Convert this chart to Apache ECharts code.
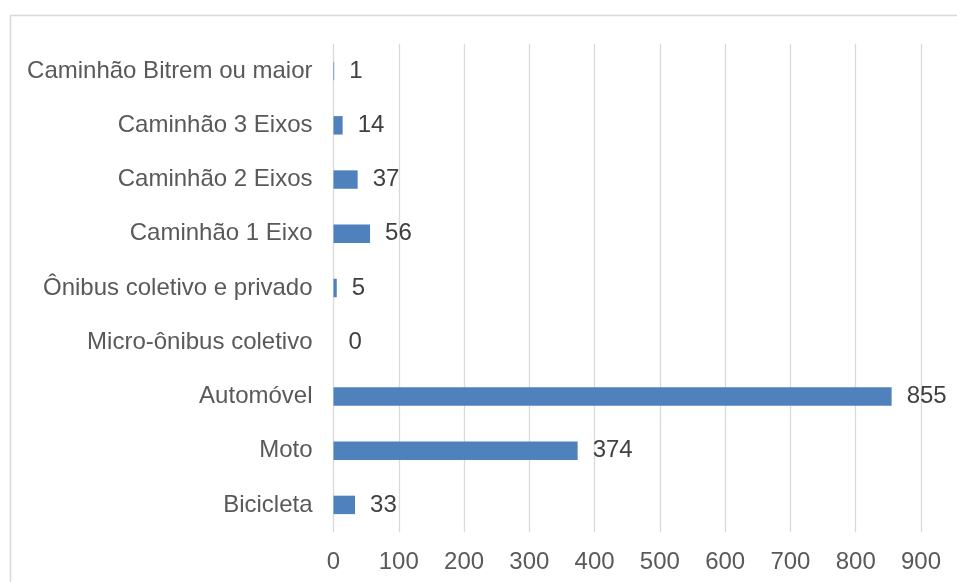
<!DOCTYPE html>
<html>
<head>
<meta charset="utf-8">
<script src="https://cdn.jsdelivr.net/npm/echarts@6/dist/echarts.min.js"></script>
<style>
  html, body { margin: 0; padding: 0; background: #ffffff; }
  #chart { width: 957px; height: 582px; }
</style>
</head>
<body>
<div id="chart"></div>
<script>
// Vehicle types, listed bottom to top
const categories = [
  'Bicicleta',
  'Moto',
  'Automóvel',
  'Micro-ônibus coletivo',
  'Ônibus coletivo e privado',
  'Caminhão 1 Eixo',
  'Caminhão 2 Eixos',
  'Caminhão 3 Eixos',
  'Caminhão Bitrem ou maior'
];
// Count per vehicle type
const counts = [33, 374, 855, 0, 5, 56, 37, 14, 1];
// Value axis range
const axisMin = 0;
const axisMax = 900;
const axisStep = 100;

const textColor = '#595959';
const gridColor = '#d9d9d9';
const fontFamily = '"Liberation Sans", Arial, sans-serif';

const chart = echarts.init(document.getElementById('chart'), null, { renderer: 'canvas' });
chart.setOption({
  backgroundColor: '#ffffff',
  animation: false,
  graphic: [{
    type: 'rect',
    shape: { x: 10.5, y: 15.5, width: 1200, height: 1200 },
    style: { fill: 'none', stroke: gridColor, lineWidth: 1.5 },
    silent: true
  }],
  grid: { left: 333.5, right: 36, top: 44, bottom: 50, containLabel: false },
  xAxis: {
    type: 'value',
    min: axisMin,
    max: axisMax,
    interval: axisStep,
    axisLine: { show: false },
    axisTick: { show: false },
    splitLine: { show: true, lineStyle: { color: gridColor, width: 1.3 } },
    axisLabel: { color: textColor, fontSize: 24, fontFamily: fontFamily, margin: 18 }
  },
  yAxis: {
    type: 'category',
    data: categories,
    axisLine: { show: false },
    axisTick: { show: false },
    axisLabel: { color: textColor, fontSize: 24, fontFamily: fontFamily, margin: 21 }
  },
  series: [{
    type: 'bar',
    data: counts,
    barWidth: '34%',
    itemStyle: { color: '#4F81BD' },
    label: {
      show: true,
      position: 'right',
      distance: 15,
      color: '#404040',
      fontSize: 24,
      fontFamily: fontFamily
    }
  }]
});
</script>
</body>
</html>
